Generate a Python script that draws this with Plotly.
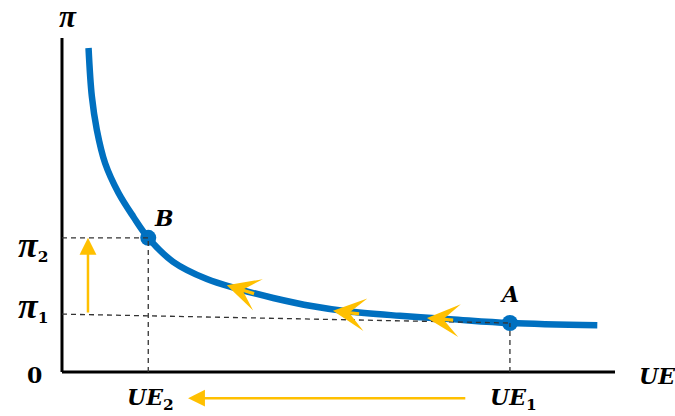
import plotly.graph_objects as go

# Phillips-type curve (UE on x, pi on y)
ue_curve = [0.48, 0.54, 0.63, 0.78, 1.02, 1.29, 1.56, 2.01, 2.62, 3.16, 3.82, 4.54, 5.15, 6.11, 7.02, 8.10, 9.68]
pi_curve = [5.82, 4.95, 4.35, 3.75, 3.22, 2.79, 2.41, 1.98, 1.67, 1.50, 1.33, 1.18, 1.09, 1.01, 0.95, 0.88, 0.84]

# the two marked points
point_names = ["A", "B"]
point_ue = [8.10, 1.56]
point_pi = [0.88, 2.41]

pi1, pi2 = 1.04, 2.41
ue1, ue2 = 8.10, 1.56
x_max, y_max = 10.0, 6.0

# movement arrows along the curve: (tail, tip)
move_tail_ue = [3.50, 5.40, 7.10]
move_tail_pi = [1.40, 1.04, 0.93]
move_tip_ue = [2.98, 4.90, 6.60]
move_tip_pi = [1.56, 1.10, 0.97]

# inflation rise arrow and unemployment fall arrow
rise_ue = 0.47
fall_pi = -0.47
fall_from, fall_to = 7.32, 2.28

blue = "#0070C0"
gold = "#FFC000"
font = dict(family="DejaVu Serif", size=22, color="black")

fig = go.Figure()

# axes
fig.add_shape(type="line", x0=0, y0=0, x1=0, y1=y_max, line=dict(color="black", width=3))
fig.add_shape(type="line", x0=0, y0=0, x1=x_max, y1=0, line=dict(color="black", width=3))

# dashed guides
dash = dict(color="#333333", width=1.3, dash="5px,4px")
fig.add_shape(type="line", x0=0, y0=pi2, x1=ue2, y1=pi2, line=dash)
fig.add_shape(type="line", x0=ue2, y0=0, x1=ue2, y1=pi2, line=dash)
fig.add_shape(type="line", x0=0, y0=pi1, x1=ue1, y1=point_pi[0], line=dash)
fig.add_shape(type="line", x0=ue1, y0=0, x1=ue1, y1=point_pi[0], line=dash)

fig.add_trace(go.Scatter(x=ue_curve, y=pi_curve, mode="lines",
                         line=dict(color=blue, width=6.5, shape="spline", smoothing=1.0),
                         hoverinfo="skip"))
fig.add_trace(go.Scatter(x=point_ue, y=point_pi, mode="markers",
                         marker=dict(color=blue, size=16), hoverinfo="skip"))

# arrows on the curve
for tx, ty, hx, hy in zip(move_tail_ue, move_tail_pi, move_tip_ue, move_tip_pi):
    fig.add_annotation(x=hx, y=hy, ax=tx, ay=ty, xref="x", yref="y", axref="x", ayref="y",
                       text="", showarrow=True, arrowhead=3, arrowsize=1.7,
                       arrowwidth=3.2, arrowcolor=gold)

fig.add_annotation(x=rise_ue, y=pi2, ax=rise_ue, ay=pi1, xref="x", yref="y", axref="x", ayref="y",
                   text="", showarrow=True, arrowhead=2, arrowsize=1.35, arrowwidth=2.5, arrowcolor=gold)
fig.add_annotation(x=fall_to, y=fall_pi, ax=fall_from, ay=fall_pi, xref="x", yref="y", axref="x", ayref="y",
                   text="", showarrow=True, arrowhead=2, arrowsize=1.35, arrowwidth=2.5, arrowcolor=gold)

# labels
pi_big = "<span style='font-family:Liberation Serif;font-size:36px'><i>π</i></span>"
labels = [
    (0.11, y_max, "<b><span style='font-family:Liberation Serif;font-size:31px'><i>π</i></span></b>", "center", "middle", 0, 21),
    (0, pi2, "<b>" + pi_big + "<sub>2</sub></b>", "right", "middle", -12, -8),
    (0, pi1, "<b>" + pi_big + "<sub>1</sub></b>", "right", "middle", -12, 8),
    (0, 0, "<b>0</b>", "right", "middle", -18, -3),
    (x_max, 0, "<b><i>UE</i></b>", "left", "middle", 22, -4),
    (ue2, 0, "<b><i>UE</i><sub>2</sub></b>", "center", "middle", 2, -27),
    (ue1, 0, "<b><i>UE</i><sub>1</sub></b>", "center", "middle", 4, -27),
    (point_ue[0], point_pi[0], "<b><i>A</i></b>", "center", "middle", 0, 29),
    (point_ue[1], point_pi[1], "<b><i>B</i></b>", "center", "middle", 16, 20),
]
for x, y, t, xa, ya, dx, dy in labels:
    fig.add_annotation(x=x, y=y, xref="x", yref="y", text=t, showarrow=False,
                       xanchor=xa, yanchor=ya, xshift=dx, yshift=dy, font=font)

fig.update_layout(
    width=675, height=416,
    margin=dict(l=0, r=0, t=0, b=0),
    paper_bgcolor="white", plot_bgcolor="white",
    showlegend=False,
    xaxis=dict(range=[-1.121, 11.085], visible=False, fixedrange=True),
    yaxis=dict(range=[-0.790, 6.682], visible=False, fixedrange=True),
)

fig.write_html("out.html", config={"displayModeBar": False},
               post_script="document.body.style.margin='0';")
